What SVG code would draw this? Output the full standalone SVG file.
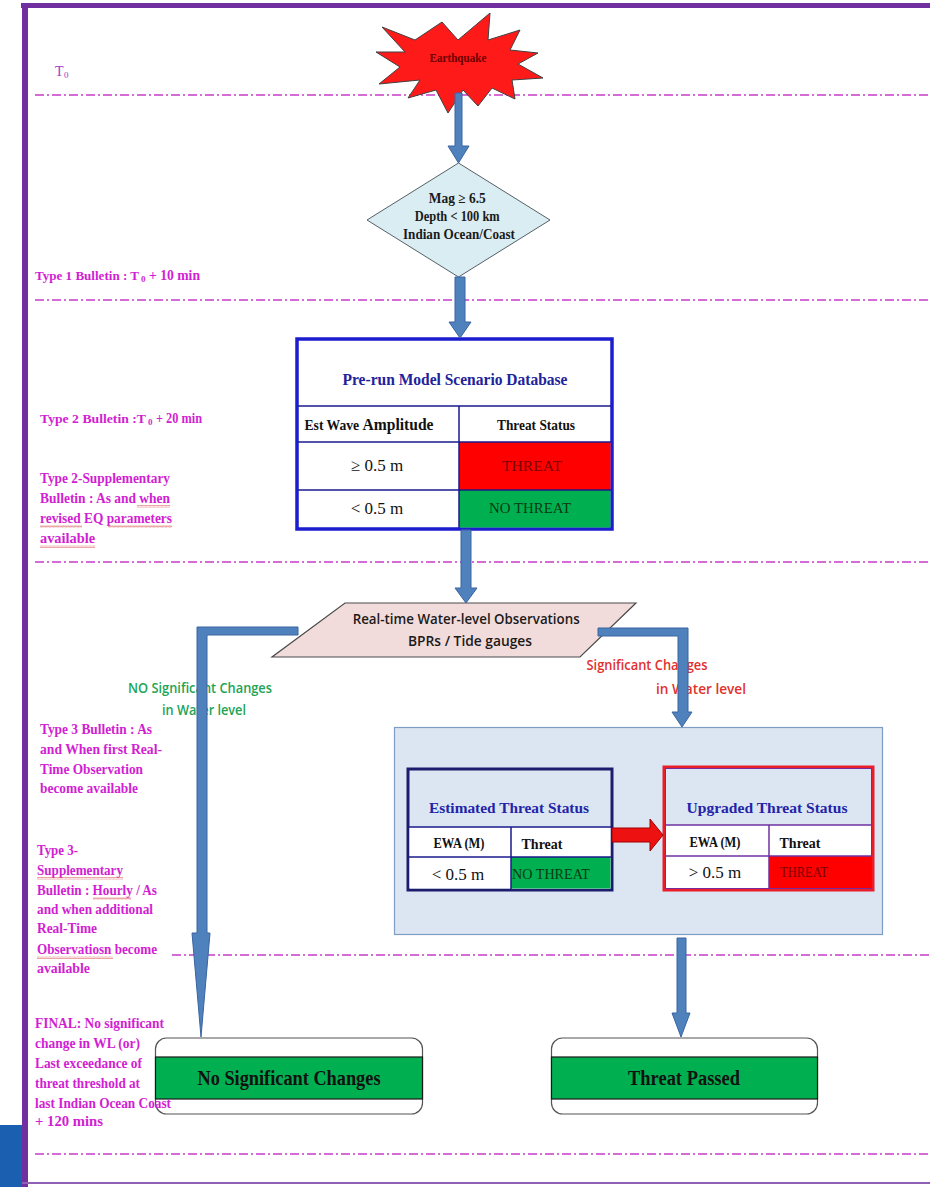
<svg xmlns="http://www.w3.org/2000/svg" width="930" height="1187" viewBox="0 0 930 1187">
<defs>
<style>
.dash{stroke:#c83cc8;stroke-width:1.6;stroke-dasharray:9 3 2 3;fill:none}
.lbl{font-family:"Liberation Serif",serif;font-weight:bold;font-size:14px;fill:#d21ed2}
.arr{fill:#4f81bd;stroke:#3a64a0;stroke-width:1}
.serifb{font-family:"Liberation Serif",serif;font-weight:bold}
.serif{font-family:"Liberation Serif",serif}
.sans{font-family:"Open Sans","Liberation Sans",sans-serif;font-weight:600}
.grid{stroke:#1a1a8c;stroke-width:1.5;fill:none}
</style>
<pattern id="wavy" width="4" height="3" patternUnits="userSpaceOnUse">
<path d="M0,2.5 L1,0.5 L2,2.5 L3,0.5 L4,2.5" stroke="#e06a6a" stroke-width="0.6" fill="none"/>
</pattern>
</defs>
<rect width="930" height="1187" fill="#ffffff"/>
<!-- frame -->
<g id="frame">
<rect x="21" y="3" width="909" height="5" fill="#7030a0"/>
<rect x="22" y="3" width="6" height="1184" fill="#7030a0"/>
<rect x="22" y="1182" width="908" height="2" fill="#9060b8"/>
<rect x="0" y="1125" width="22" height="62" fill="#1b5fb0"/>
</g>
<!-- timeline dashed lines -->
<g id="timelines">
<line class="dash" x1="35" y1="95" x2="930" y2="95"/>
<line class="dash" x1="35" y1="300" x2="930" y2="300"/>
<line class="dash" x1="35" y1="562" x2="930" y2="562"/>
<line class="dash" x1="172" y1="955" x2="930" y2="955"/>
<line class="dash" x1="35" y1="1154" x2="930" y2="1154"/>
</g>
<!-- branch labels -->
<g id="branch-labels">
<text class="sans" font-size="14" fill="#21a453" text-anchor="middle"><tspan x="200" y="693" textLength="144" lengthAdjust="spacingAndGlyphs">NO Significant Changes</tspan><tspan x="204" y="715" textLength="84" lengthAdjust="spacingAndGlyphs">in Water level</tspan></text>
<text class="sans" font-size="14" fill="#e2302c" text-anchor="middle"><tspan x="647" y="670" textLength="121" lengthAdjust="spacingAndGlyphs">Significant Changes</tspan><tspan x="701" y="694" textLength="90" lengthAdjust="spacingAndGlyphs">in Water level</tspan></text>
</g>
<!-- nodes -->
<g id="earthquake">
<polygon points="382,27 415,40 442,22 458,40 490,13 488,40 520,30 510,50 538,53 518,64 543,78 512,80 515,99 492,88 478,106 463,90 448,113 436,90 408,98 420,80 379,84 400,67 376,52 405,52" fill="#ff1a1a" stroke="#404040" stroke-width="1"/>
<text x="458" y="62" class="serifb" font-size="13" fill="#6a0000" text-anchor="middle" textLength="57" lengthAdjust="spacingAndGlyphs">Earthquake</text>
</g>
<g id="criteria">
<polygon points="458.5,163 550,220 458.5,277 367,220" fill="#daedf2" stroke="#555f66" stroke-width="1"/>
<text class="serifb" font-size="14" fill="#1a1a1a" text-anchor="middle">
<tspan x="459" y="203" textLength="57" lengthAdjust="spacingAndGlyphs">Mag ≥ 6.5</tspan>
<tspan x="459" y="221" textLength="85" lengthAdjust="spacingAndGlyphs">Depth &lt; 100 km</tspan>
<tspan x="459" y="239" textLength="112" lengthAdjust="spacingAndGlyphs">Indian Ocean/Coast</tspan>
</text>
</g>
<g id="database">
<rect x="297" y="339" width="315" height="190" fill="#ffffff" stroke="#1c1cd0" stroke-width="3.5"/>
<rect x="459" y="442" width="151.5" height="48" fill="#ff0000"/>
<rect x="459" y="490" width="151.5" height="37.5" fill="#00b050"/>
<line class="grid" x1="298" y1="406" x2="611" y2="406"/>
<line class="grid" x1="298" y1="442" x2="611" y2="442"/>
<line class="grid" x1="298" y1="490" x2="611" y2="490"/>
<line class="grid" x1="459" y1="406" x2="459" y2="528"/>
<text x="455" y="385" class="serifb" font-size="16" fill="#22229a" text-anchor="middle" textLength="225" lengthAdjust="spacingAndGlyphs">Pre-run Model Scenario Database</text>
<text x="369" y="430" class="serifb" font-size="14" fill="#111" text-anchor="middle" textLength="129" lengthAdjust="spacingAndGlyphs">Est Wave <tspan font-size="16">Amplitude</tspan></text>
<text x="536" y="430" class="serifb" font-size="14" fill="#111" text-anchor="middle" textLength="78" lengthAdjust="spacingAndGlyphs">Threat Status</text>
<text x="377" y="471" class="serif" font-size="17" fill="#111" text-anchor="middle">≥ 0.5 m</text>
<text x="377" y="514" class="serif" font-size="17" fill="#111" text-anchor="middle">&lt; 0.5 m</text>
<text x="532" y="471" class="serif" font-size="14" fill="#7a0000" text-anchor="middle" textLength="60" lengthAdjust="spacingAndGlyphs">THREAT</text>
<text x="530" y="513" class="serif" font-size="14" fill="#0a3a10" text-anchor="middle" textLength="82" lengthAdjust="spacingAndGlyphs">NO THREAT</text>
</g>
<g id="observations">
<polygon points="345,603 636,603 580,657 272,657" fill="#f2dcdb" stroke="#4a4a4a" stroke-width="1.2"/>
<text class="sans" font-size="14" fill="#1a1a1a" text-anchor="middle">
<tspan x="468" y="624" textLength="227" lengthAdjust="spacingAndGlyphs">Real-time Water-level Observations</tspan>
<tspan x="470" y="646" textLength="124" lengthAdjust="spacingAndGlyphs">BPRs / Tide gauges</tspan>
</text>
</g>
<g id="threat-panel">
<rect x="394.5" y="727.5" width="488" height="207" fill="#dce6f2" stroke="#7f9cc4" stroke-width="1.2"/>
</g>
<g id="estimated">
<rect x="408" y="769" width="204" height="121" fill="#dce6f2" stroke="#1c1c6e" stroke-width="3"/>
<rect x="409.5" y="827" width="201" height="61.5" fill="#ffffff"/>
<rect x="511" y="857" width="99.5" height="31.5" fill="#00b050"/>
<line class="grid" x1="409" y1="827" x2="611" y2="827"/>
<line class="grid" x1="409" y1="857" x2="611" y2="857"/>
<line class="grid" x1="511" y1="827" x2="511" y2="889"/>
<text x="509" y="813" class="serifb" font-size="15" fill="#2323a8" text-anchor="middle" textLength="160" lengthAdjust="spacingAndGlyphs">Estimated Threat Status</text>
<text x="459" y="848" class="serifb" font-size="14" fill="#111" text-anchor="middle" textLength="51" lengthAdjust="spacingAndGlyphs">EWA (M)</text>
<text x="542" y="849" class="serifb" font-size="14" fill="#111" text-anchor="middle">Threat</text>
<text x="458" y="880" class="serif" font-size="17" fill="#111" text-anchor="middle">&lt; 0.5 m</text>
<text x="551" y="879" class="serif" font-size="14" fill="#0a3a10" text-anchor="middle" textLength="78" lengthAdjust="spacingAndGlyphs">NO THREAT</text>
</g>
<g id="upgraded">
<rect x="664" y="767" width="209" height="123" fill="#dce6f2" stroke="#e81e2a" stroke-width="3"/>
<rect x="665.5" y="825" width="206" height="63.5" fill="#ffffff"/>
<rect x="769" y="856" width="102.5" height="32.5" fill="#ff0000"/>
<line x1="666" y1="825" x2="871" y2="825" stroke="#7030a0" stroke-width="1.5"/>
<line x1="666" y1="856" x2="871" y2="856" stroke="#7030a0" stroke-width="1.5"/>
<line x1="769" y1="825" x2="769" y2="888" stroke="#7030a0" stroke-width="1.5"/>
<rect x="665.5" y="768.5" width="206" height="120" fill="none" stroke="#7a2a9a" stroke-width="1"/>
<text x="767" y="813" class="serifb" font-size="15" fill="#2323a8" text-anchor="middle" textLength="161" lengthAdjust="spacingAndGlyphs">Upgraded Threat Status</text>
<text x="715" y="847" class="serifb" font-size="14" fill="#111" text-anchor="middle" textLength="51" lengthAdjust="spacingAndGlyphs">EWA (M)</text>
<text x="800" y="848" class="serifb" font-size="14" fill="#111" text-anchor="middle">Threat</text>
<text x="715" y="878" class="serif" font-size="17" fill="#111" text-anchor="middle">&gt; 0.5 m</text>
<text x="804" y="877" class="serif" font-size="14" fill="#7a0000" text-anchor="middle" textLength="48" lengthAdjust="spacingAndGlyphs">THREAT</text>
</g>
<g id="no-significant">
<rect x="155.5" y="1038" width="267" height="76" rx="11" fill="#ffffff" stroke="#555" stroke-width="1.2"/>
<rect x="155.5" y="1057" width="267" height="42" fill="#00b050" stroke="#1a1a1a" stroke-width="1.2"/>
<text x="289" y="1085" class="serifb" font-size="20" fill="#111" text-anchor="middle" textLength="183" lengthAdjust="spacingAndGlyphs">No Significant Changes</text>
</g>
<g id="threat-passed">
<rect x="551.5" y="1038" width="266" height="76" rx="11" fill="#ffffff" stroke="#555" stroke-width="1.2"/>
<rect x="551.5" y="1057" width="266" height="42" fill="#00b050" stroke="#1a1a1a" stroke-width="1.2"/>
<text x="684" y="1085" class="serifb" font-size="20" fill="#111" text-anchor="middle" textLength="112" lengthAdjust="spacingAndGlyphs">Threat Passed</text>
</g>
<!-- left bulletin labels -->
<g id="labels">
<text x="55" y="76" class="lbl" style="fill:#a040c8;font-weight:normal">T</text>
<text x="64" y="78" class="lbl" style="fill:#a040c8;font-weight:normal;font-size:9px">0</text>
<text x="35" y="280" class="lbl" style="font-size:13px" textLength="104" lengthAdjust="spacingAndGlyphs">Type 1 Bulletin : T</text>
<text x="141" y="282" class="lbl" style="font-size:9px">0</text>
<text x="149" y="280" class="lbl" textLength="51" lengthAdjust="spacingAndGlyphs">+ 10 min</text>
<text x="40" y="423" class="lbl" style="font-size:13px" textLength="106" lengthAdjust="spacingAndGlyphs">Type 2 Bulletin :T</text>
<text x="148" y="425" class="lbl" style="font-size:9px">0</text>
<text x="156" y="423" class="lbl" textLength="46" lengthAdjust="spacingAndGlyphs">+ 20 min</text>
<text class="lbl">
<tspan x="40" y="483" textLength="130" lengthAdjust="spacingAndGlyphs">Type 2-Supplementary</tspan>
<tspan x="40" y="503" textLength="130" lengthAdjust="spacingAndGlyphs">Bulletin : As and when</tspan>
<tspan x="40" y="523" textLength="132" lengthAdjust="spacingAndGlyphs">revised EQ parameters</tspan>
<tspan x="40" y="543" textLength="55" lengthAdjust="spacingAndGlyphs">available</tspan>
</text>
<rect x="137" y="505" width="33" height="3" fill="url(#wavy)"/>
<rect x="40" y="525" width="42" height="3" fill="url(#wavy)"/>
<rect x="108" y="525" width="64" height="3" fill="url(#wavy)"/>
<rect x="40" y="545" width="55" height="3" fill="url(#wavy)"/>
<text class="lbl">
<tspan x="40" y="734" textLength="112" lengthAdjust="spacingAndGlyphs">Type 3 Bulletin : As</tspan>
<tspan x="40" y="754" textLength="122" lengthAdjust="spacingAndGlyphs">and When first  Real-</tspan>
<tspan x="40" y="774" textLength="103" lengthAdjust="spacingAndGlyphs">Time Observation</tspan>
<tspan x="40" y="793" textLength="98" lengthAdjust="spacingAndGlyphs">become available</tspan>
</text>
<text class="lbl">
<tspan x="37" y="855" textLength="41" lengthAdjust="spacingAndGlyphs">Type 3-</tspan>
<tspan x="37" y="875" textLength="86" lengthAdjust="spacingAndGlyphs">Supplementary</tspan>
<tspan x="37" y="895" textLength="120" lengthAdjust="spacingAndGlyphs">Bulletin : Hourly / As</tspan>
<tspan x="37" y="914" textLength="116" lengthAdjust="spacingAndGlyphs">and when additional</tspan>
<tspan x="37" y="933" textLength="60" lengthAdjust="spacingAndGlyphs">Real-Time</tspan>
<tspan x="37" y="954" textLength="120" lengthAdjust="spacingAndGlyphs">Observatiosn become</tspan>
<tspan x="37" y="973" textLength="53" lengthAdjust="spacingAndGlyphs">available</tspan>
</text>
<rect x="37" y="877" width="86" height="3" fill="url(#wavy)"/>
<rect x="93" y="897" width="38" height="3" fill="url(#wavy)"/>
<rect x="37" y="956" width="76" height="3" fill="url(#wavy)"/>
<text class="lbl">
<tspan x="35" y="1028" textLength="129" lengthAdjust="spacingAndGlyphs">FINAL: No significant</tspan>
<tspan x="35" y="1048" textLength="105" lengthAdjust="spacingAndGlyphs">change in WL (or)</tspan>
<tspan x="35" y="1068" textLength="107" lengthAdjust="spacingAndGlyphs">Last exceedance of</tspan>
<tspan x="35" y="1088" textLength="105" lengthAdjust="spacingAndGlyphs">threat threshold at</tspan>
<tspan x="35" y="1108" textLength="136" lengthAdjust="spacingAndGlyphs">last Indian Ocean Coast</tspan>
<tspan x="35" y="1126" textLength="68" lengthAdjust="spacingAndGlyphs">+  120 mins</tspan>
</text>
</g>
<!-- connectors -->
<g id="connectors">
<path class="arr" d="M455,93 H462 V146 H469 L458.5,163 L448,146 H455 Z"/>
<path class="arr" d="M455,277 H465 V322 H471 L460,338 L449,322 H455 Z"/>
<path class="arr" d="M461,530 H471 V588 H477 L466,603 L455,588 H461 Z"/>
<path class="arr" d="M298,627 V635 H207 V933 H210 L201,1037 L192,933 H197 V627 Z"/>
<path class="arr" d="M598,628 H688 V712 H692 L682,727 L672,712 H678 V636 H598 Z"/>
<path class="arr" d="M677,938 H686 V1013 H690 L681,1037 L672,1013 H677 Z"/>
<path d="M612,828 H650 V819 L663,835 L650,851 V842 H612 Z" fill="#ee1111" stroke="#a00000" stroke-width="1"/>
</g>
</svg>
